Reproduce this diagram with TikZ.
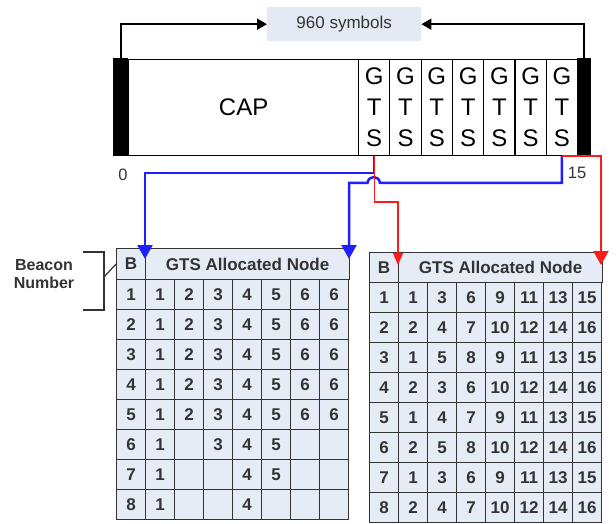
\documentclass[tikz,border=0pt]{standalone}
\usepackage{fontspec}
\setmainfont{Liberation Sans}
\usetikzlibrary{arrows.meta}
\definecolor{cellfill}{HTML}{E6ECF6}
\definecolor{boxfill}{HTML}{E3EAF4}
\definecolor{txt}{HTML}{333333}
\definecolor{myblue}{HTML}{1E1EFF}
\definecolor{myred}{HTML}{FF1A1A}
\tikzset{
  cell/.style={draw=txt, fill=cellfill, line width=1.2pt, inner sep=0pt, anchor=north west,
    text=txt, font=\bfseries\fontsize{17}{17}\selectfont},
  gtscell/.style={draw=black, line width=1.2pt, inner sep=0pt, anchor=north west, fill=white,
    minimum width=31.29pt, minimum height=96pt, align=center, font=\fontsize{24}{31}\selectfont},
  bar/.style={fill=black, inner sep=0pt, anchor=north west},
  blueline/.style={draw=myblue, line width=2.5pt, -{Triangle[width=15pt,length=14pt]}},
  redthin/.style={draw=myred, line width=1.4pt, -{Triangle[width=10pt,length=12pt]}},
  redthick/.style={draw=myred, line width=2pt, -{Triangle[width=15pt,length=14pt]}},
  blackarrow/.style={draw=black, line width=1.8pt, -{Triangle[width=11pt,length=10pt]}},
  numlabel/.style={text=txt, font=\fontsize{16.5}{16.5}\selectfont, inner sep=0pt}
}
\begin{document}
\begin{tikzpicture}[x=1pt,y=-1pt]
\useasboundingbox (0,0) rectangle (616,524);

% top frame
\node[draw=black, line width=1.2pt, fill=white, inner sep=0pt, anchor=north west,
  minimum width=230pt, minimum height=96pt, font=\fontsize{24}{24}\selectfont] (cap) at (128,59) {CAP};
\foreach \i in {1,...,7} {
  \node[gtscell] (g\i) at ({358+(\i-1)*31.29},59) {G\\T\\S};
}
\node[bar, minimum width=15pt, minimum height=98pt] (lbar) at (113,58) {};
\node[bar, minimum width=14pt, minimum height=98pt] (rbar) at (577,58) {};

\node[fill=boxfill, inner sep=0pt, anchor=north west, minimum width=154pt, minimum height=34pt,
  text=txt, font=\fontsize{17}{17}\selectfont] (sym) at (267,7) {960 symbols};
\draw[blackarrow] (lbar.north) |- (sym.west);
\draw[blackarrow] (rbar.north) |- (sym.east);

\node[numlabel] (zero) at (123,175) {0};
\node[numlabel] (fifteen) at (577,173) {15};

% left table
\node[cell, minimum width=29pt, minimum height=31pt] (LB) at (116,248) {B};
\node[cell, minimum width=204pt, minimum height=31pt] (LH) at (145,248) {GTS Allocated Node};
\foreach \row [count=\r] in {{1,1,2,3,4,5,6,6},{2,1,2,3,4,5,6,6},{3,1,2,3,4,5,6,6},{4,1,2,3,4,5,6,6},
  {5,1,2,3,4,5,6,6},{6,1,{},3,4,5,{},{}},{7,1,{},{},4,5,{},{}},{8,1,{},{},4,{},{},{}}} {
  \foreach \v [count=\c] in \row {
    \node[cell, minimum width=29pt, minimum height=30pt] (L-\r-\c)
      at ({116+(\c-1)*29},{279+(\r-1)*30}) {\v};
  }
}

% right table
\node[cell, minimum width=29pt, minimum height=30pt] (RB) at (369,252) {B};
\node[cell, minimum width=204pt, minimum height=30pt] (RH) at (398,252) {GTS Allocated Node};
\foreach \row [count=\r] in {{1,1,3,6,9,11,13,15},{2,2,4,7,10,12,14,16},{3,1,5,8,9,11,13,15},{4,2,3,6,10,12,14,16},
  {5,1,4,7,9,11,13,15},{6,2,5,8,10,12,14,16},{7,1,3,6,9,11,13,15},{8,2,4,7,10,12,14,16}} {
  \foreach \v [count=\c] in \row {
    \node[cell, minimum width=29pt, minimum height=30pt] (R-\r-\c)
      at ({369+(\c-1)*29},{282+(\r-1)*30}) {\v};
  }
}

% beacon number label
\node[text=txt, align=center, font=\bfseries\fontsize{16}{18}\selectfont] (bn) at (44,274) {Beacon\\Number};
\draw[draw=txt, line width=1.2pt] (83,252) -- (104,252) -- (104,310) -- (83,310);
\draw[draw=txt, line width=1.2pt] (104,277) -- (LB.west);

% arrow targets
\coordinate (LBtip) at (145,259);
\coordinate (LHtip) at (349,259);
\coordinate (RBtip) at (398,265);
\coordinate (RHtip) at (601,265);

% blue connectors
\draw[blueline] (g1.south) -- (g1.south |- 0,173) -| (LBtip);
\draw[blueline] (g7.south) -- (g7.south |- 0,183) -- (380,183)
  .. controls (379,175) and (368.5,175) .. (367.5,183) -- (349,183) -- (LHtip);

% red connectors
\draw[redthin] (g1.south) -- (g1.south |- 0,202) -| (RBtip);
\draw[redthick] (g7.south) -- (RHtip |- g7.south) -- (RHtip);
\end{tikzpicture}
\end{document}
